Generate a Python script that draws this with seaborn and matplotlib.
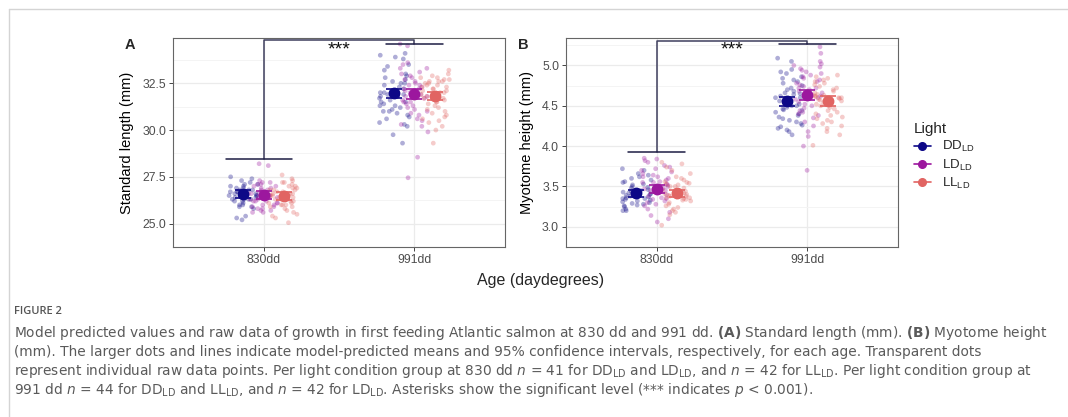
import numpy as np
import pandas as pd
import matplotlib
matplotlib.use('Agg')
import matplotlib.pyplot as plt
from matplotlib.lines import Line2D
import seaborn as sns

ages = ['830dd', '991dd']
lights = ['DD', 'LD', 'LL']
light_labels = [r'DD$_{\mathsf{LD}}$', r'LD$_{\mathsf{LD}}$', r'LL$_{\mathsf{LD}}$']
palette = ['#0d0887', '#9c179e', '#e16462']

# raw data, standard length (mm)
sl_830_dd = [27.5, 27.4, 27.3, 27.2, 27.1, 27.1, 27.0, 27.0, 26.9, 26.9, 26.8, 26.8, 26.8, 26.7, 26.7,
             26.6, 26.6, 26.6, 26.5, 26.5, 26.5, 26.5, 26.4, 26.4, 26.4, 26.3, 26.3, 26.3, 26.3, 26.2,
             26.2, 26.1, 26.0, 26.0, 25.9, 25.8, 25.9, 26.7, 25.4, 25.3, 25.2]
sl_830_ld = [28.2, 28.1, 27.3, 27.2, 27.2, 27.1, 27.0, 27.0, 26.9, 26.9, 26.8, 26.8, 26.7, 26.7, 26.6,
             26.6, 26.5, 26.5, 26.5, 26.4, 26.4, 26.3, 26.3, 26.2, 26.2, 26.1, 26.1, 26.0, 26.0, 25.9,
             25.9, 25.8, 25.8, 25.7, 25.6, 25.6, 26.6, 26.4, 27.1, 26.2, 25.7]
sl_830_ll = [27.6, 27.4, 27.3, 27.2, 27.2, 27.1, 27.0, 27.0, 26.9, 26.9, 26.8, 26.8, 26.7, 26.7, 26.6,
             26.6, 26.6, 26.5, 26.5, 26.4, 26.4, 26.3, 26.3, 26.2, 26.2, 26.1, 26.1, 26.0, 26.0, 25.9,
             25.8, 25.7, 25.6, 25.5, 25.4, 25.3, 25.05, 26.5, 26.3, 26.0, 26.8, 25.9]
sl_991_dd = [34.1, 34.0, 33.9, 33.8, 33.5, 33.4, 33.2, 33.0, 32.9, 32.8, 32.6, 32.5, 32.5, 32.4, 32.3,
             32.2, 32.1, 32.0, 32.0, 31.9, 31.9, 31.8, 31.7, 31.6, 31.5, 31.4, 31.3, 31.3, 31.2, 31.1,
             31.0, 31.0, 30.9, 30.8, 30.7, 30.6, 30.4, 30.3, 30.2, 29.75, 29.3, 32.7, 31.8, 31.5]
sl_991_ld = [34.6, 34.5, 33.6, 33.5, 33.3, 33.3, 33.1, 33.0, 32.9, 32.8, 32.7, 32.6, 32.5, 32.4, 32.3,
             32.2, 32.1, 32.0, 31.9, 31.8, 31.8, 31.7, 31.6, 31.5, 31.4, 31.3, 31.2, 31.1, 31.0, 30.9,
             30.8, 30.6, 30.5, 30.3, 30.2, 29.9, 28.55, 27.45, 32.4, 31.9, 32.2, 31.5]
sl_991_ll = [33.2, 33.0, 32.9, 32.8, 32.8, 32.7, 32.7, 32.6, 32.6, 32.5, 32.5, 32.4, 32.4, 32.3, 32.3,
             32.2, 32.2, 32.1, 32.0, 32.0, 31.9, 31.8, 31.7, 31.7, 31.6, 31.5, 31.4, 31.3, 31.2, 31.1,
             31.0, 30.9, 30.8, 30.7, 30.6, 30.5, 30.4, 30.2, 30.0, 29.3, 32.1, 31.9, 31.5, 32.6]

# raw data, myotome height (mm)
mh_830_dd = [3.72, 3.70, 3.66, 3.64, 3.62, 3.60, 3.58, 3.56, 3.55, 3.53, 3.52, 3.50, 3.49, 3.48, 3.46,
             3.45, 3.44, 3.43, 3.42, 3.41, 3.40, 3.39, 3.38, 3.37, 3.36, 3.35, 3.34, 3.33, 3.32, 3.31,
             3.30, 3.29, 3.28, 3.27, 3.26, 3.25, 3.22, 3.20, 3.20, 3.35, 3.40]
mh_830_ld = [3.85, 3.84, 3.82, 3.80, 3.76, 3.74, 3.72, 3.70, 3.68, 3.66, 3.64, 3.62, 3.60, 3.58, 3.56,
             3.55, 3.53, 3.52, 3.50, 3.48, 3.47, 3.45, 3.44, 3.42, 3.40, 3.38, 3.36, 3.34, 3.32, 3.30,
             3.28, 3.26, 3.22, 3.18, 3.14, 3.10, 3.06, 3.55, 3.45, 3.62, 3.35]
mh_830_ll = [3.80, 3.78, 3.74, 3.70, 3.66, 3.62, 3.60, 3.58, 3.56, 3.55, 3.54, 3.53, 3.52, 3.50, 3.48,
             3.46, 3.45, 3.44, 3.42, 3.41, 3.40, 3.39, 3.38, 3.37, 3.36, 3.35, 3.34, 3.33, 3.32, 3.30,
             3.28, 3.26, 3.24, 3.22, 3.20, 3.18, 3.15, 3.02, 3.42, 3.38, 3.50, 3.36]
mh_991_dd = [5.09, 5.05, 4.95, 4.92, 4.90, 4.86, 4.84, 4.82, 4.80, 4.78, 4.75, 4.72, 4.70, 4.68, 4.66,
             4.64, 4.62, 4.60, 4.58, 4.56, 4.54, 4.52, 4.50, 4.48, 4.46, 4.45, 4.44, 4.42, 4.40, 4.38,
             4.36, 4.34, 4.32, 4.30, 4.28, 4.26, 4.24, 4.22, 4.20, 4.18, 4.14, 4.60, 4.50, 4.65]
mh_991_ld = [5.23, 5.15, 5.05, 5.02, 5.00, 4.98, 4.96, 4.94, 4.92, 4.90, 4.88, 4.86, 4.84, 4.82, 4.80,
             4.78, 4.76, 4.74, 4.72, 4.70, 4.68, 4.65, 4.62, 4.60, 4.58, 4.55, 4.52, 4.50, 4.47, 4.44,
             4.42, 4.40, 4.38, 4.35, 4.30, 4.25, 4.18, 4.12, 4.00, 3.70, 4.66, 4.72]
mh_991_ll = [4.88, 4.86, 4.84, 4.82, 4.80, 4.78, 4.76, 4.74, 4.72, 4.70, 4.68, 4.66, 4.64, 4.63, 4.62,
             4.61, 4.60, 4.59, 4.58, 4.57, 4.56, 4.55, 4.54, 4.52, 4.50, 4.48, 4.46, 4.44, 4.42, 4.40,
             4.38, 4.36, 4.34, 4.32, 4.30, 4.28, 4.25, 4.22, 4.18, 4.14, 4.01, 4.60, 4.52, 4.63]

# model predicted means and 95% CI (order DD, LD, LL)
sl_mean_830 = [26.56, 26.51, 26.45]
sl_lo_830 = [26.35, 26.32, 26.25]
sl_hi_830 = [26.78, 26.73, 26.69]
sl_mean_991 = [31.96, 31.92, 31.81]
sl_lo_991 = [31.74, 31.68, 31.58]
sl_hi_991 = [32.20, 32.17, 32.06]

mh_mean_830 = [3.417, 3.470, 3.417]
mh_lo_830 = [3.370, 3.425, 3.370]
mh_hi_830 = [3.460, 3.520, 3.460]
mh_mean_991 = [4.560, 4.633, 4.560]
mh_lo_991 = [4.500, 4.570, 4.500]
mh_hi_991 = [4.610, 4.700, 4.620]

# significance brackets: [830 end, top, 991 end], star height
sl_bracket = [28.45, 34.80, 34.60]
sl_star = 34.30
mh_bracket = [3.93, 5.305, 5.26]
mh_star = 5.19

dodge = 0.1333
np.random.seed(7)


def long_df(groups):
    rows = []
    for (age, light), vals in groups.items():
        x = ages.index(age) + 1 + (lights.index(light) - 1) * dodge
        for v in vals:
            rows.append({'age': age, 'light': light, 'xpos': x, 'value': v})
    return pd.DataFrame(rows)


sl_df = long_df({('830dd', 'DD'): sl_830_dd, ('830dd', 'LD'): sl_830_ld, ('830dd', 'LL'): sl_830_ll,
                 ('991dd', 'DD'): sl_991_dd, ('991dd', 'LD'): sl_991_ld, ('991dd', 'LL'): sl_991_ll})
mh_df = long_df({('830dd', 'DD'): mh_830_dd, ('830dd', 'LD'): mh_830_ld, ('830dd', 'LL'): mh_830_ll,
                 ('991dd', 'DD'): mh_991_dd, ('991dd', 'LD'): mh_991_ld, ('991dd', 'LL'): mh_991_ll})

sns.set_theme(style='white')
plt.rcParams['font.family'] = ['Liberation Sans', 'DejaVu Sans']
plt.rcParams['mathtext.fontset'] = 'custom'
plt.rcParams['mathtext.rm'] = 'DejaVu Sans'
plt.rcParams['mathtext.it'] = 'DejaVu Sans:italic'
plt.rcParams['mathtext.bf'] = 'DejaVu Sans:bold'
plt.rcParams['mathtext.sf'] = 'Liberation Sans'

fig = plt.figure(figsize=(10.68, 4.17), dpi=100)
W, H = 1068, 417

ax_a = fig.add_axes([173 / W, 1 - 247 / H, 332 / W, 209 / H])
ax_b = fig.add_axes([566 / W, 1 - 247 / H, 332 / W, 209 / H])


def draw_panel(ax, df, means, los, his, ylim, yticks, bracket, star, ylabel, cap830):
    sns.stripplot(data=df, x='xpos', y='value', hue='light', hue_order=lights, palette=palette,
                  native_scale=True, orient='x', jitter=0.1 / dodge, size=3.4, alpha=0.33,
                  linewidth=0, legend=False, ax=ax, zorder=2)

    for k, light in enumerate(lights):
        xs = [1 + (k - 1) * dodge, 2 + (k - 1) * dodge]
        m = [means[0][k], means[1][k]]
        err = [[m[0] - los[0][k], m[1] - los[1][k]], [his[0][k] - m[0], his[1][k] - m[1]]]
        ax.errorbar(xs, m, yerr=err, fmt='o', color=palette[k], ms=7.5, capsize=5.5,
                    elinewidth=1.2, capthick=1.2, zorder=4)

    # bracket
    ax.plot([1, 1, 2, 2], [bracket[0], bracket[1], bracket[1], bracket[2]],
            color='#3e3e5e', lw=1.1, zorder=3)
    ax.plot([1 - cap830[0], 1 + cap830[1]], [bracket[0], bracket[0]], color='#1c1c44', lw=1.1, zorder=3)
    ax.plot([2 - 0.19, 2 + 0.19], [bracket[2], bracket[2]], color='#1c1c44', lw=1.1, zorder=3)
    ax.text(1.5, star, '***', ha='center', va='center', fontsize=14, color='#111111')

    ax.set_xlim(0.4, 2.6)
    ax.set_xticks([1, 2])
    ax.set_xticklabels(ages)
    ax.set_ylim(*ylim)
    ax.set_yticks(yticks)
    step = yticks[1] - yticks[0]
    ax.set_yticks(np.arange(yticks[0] - step / 2, ylim[1], step), minor=True)
    ax.grid(True, which='major', color='#ebebeb', lw=0.9, zorder=0)
    ax.grid(True, which='minor', axis='y', color='#f4f4f4', lw=0.7, zorder=0)
    ax.set_axisbelow(True)
    for s in ax.spines.values():
        s.set_color('#666666')
        s.set_linewidth(0.8)
    ax.tick_params(axis='both', which='major', length=3, width=0.7, color='#444444',
                   labelsize=8.8, labelcolor='#4d4d4d', pad=2, left=True, bottom=True)
    ax.tick_params(which='minor', length=0)
    ax.set_xlabel('')
    ax.set_ylabel(ylabel, fontsize=10.5, color='black', labelpad=6)


draw_panel(ax_a, sl_df, [sl_mean_830, sl_mean_991], [sl_lo_830, sl_lo_991], [sl_hi_830, sl_hi_991],
           (24.62, 34.92), [25.0, 27.5, 30.0, 32.5], sl_bracket, sl_star, 'Standard length (mm)',
           (0.25, 0.19))
ax_a.set_yticklabels(['25.0', '27.5', '30.0', '32.5'])
draw_panel(ax_b, mh_df, [mh_mean_830, mh_mean_991], [mh_lo_830, mh_lo_991], [mh_hi_830, mh_hi_991],
           (2.92, 5.34), [3.0, 3.5, 4.0, 4.5, 5.0], mh_bracket, mh_star, 'Myotome height (mm)',
           (0.19, 0.19))
ax_b.set_yticklabels(['3.0', '3.5', '4.0', '4.5', '5.0'])

fig.text(130 / W, 1 - 45 / H, 'A', fontsize=10.5, fontweight='bold', ha='center', va='center')
fig.text(523 / W, 1 - 45 / H, 'B', fontsize=10.5, fontweight='bold', ha='center', va='center')
fig.text(541 / W, 1 - 281 / H, 'Age (daydegrees)', fontsize=11.5, ha='center', va='center')

handles = [Line2D([0], [0], color=c, marker='o', ms=5.5, lw=1.2) for c in palette]
leg = fig.legend(handles, light_labels, title='Light', loc='upper left',
                 bbox_to_anchor=(902 / W, 1 - 110 / H), frameon=False, fontsize=9.5,
                 title_fontsize=11, handlelength=1.3, handletextpad=0.8, labelspacing=0.25)
leg._legend_box.align = 'left'

# outer frame
fig.add_artist(Line2D([9 / W, 1], [1 - 9 / H, 1 - 9 / H], color='#d4d4d4', lw=1))
fig.add_artist(Line2D([9 / W, 9 / W], [0, 1 - 9 / H], color='#d4d4d4', lw=1))

cap_font = 'DejaVu Sans'
cap_color = '#5a5a5a'
fig.text(14 / W, 1 - 312 / H, 'FIGURE 2', fontsize=8, fontweight='semibold', color='#555555',
         family='Open Sans', va='center')
caption = [
    r'Model predicted values and raw data of growth in first feeding Atlantic salmon at 830 dd and 991 dd. '
    r'$\mathbf{(A)}$ Standard length (mm). $\mathbf{(B)}$ Myotome height',
    r'(mm). The larger dots and lines indicate model-predicted means and 95% confidence intervals, '
    r'respectively, for each age. Transparent dots',
    r'represent individual raw data points. Per light condition group at 830 dd $n$ = 41 for '
    r'DD$_{\mathrm{LD}}$ and LD$_{\mathrm{LD}}$, and $n$ = 42 for LL$_{\mathrm{LD}}$. Per light condition group at',
    r'991 dd $n$ = 44 for DD$_{\mathrm{LD}}$ and LL$_{\mathrm{LD}}$, and $n$ = 42 for LD$_{\mathrm{LD}}$. '
    r'Asterisks show the significant level (*** indicates $p$ < 0.001).',
]
for i, line in enumerate(caption):
    fig.text(14 / W, 1 - (333 + 19 * i) / H, line, fontsize=9.9, color=cap_color,
             family=cap_font, va='center')

fig.savefig('out.png', dpi=100)
